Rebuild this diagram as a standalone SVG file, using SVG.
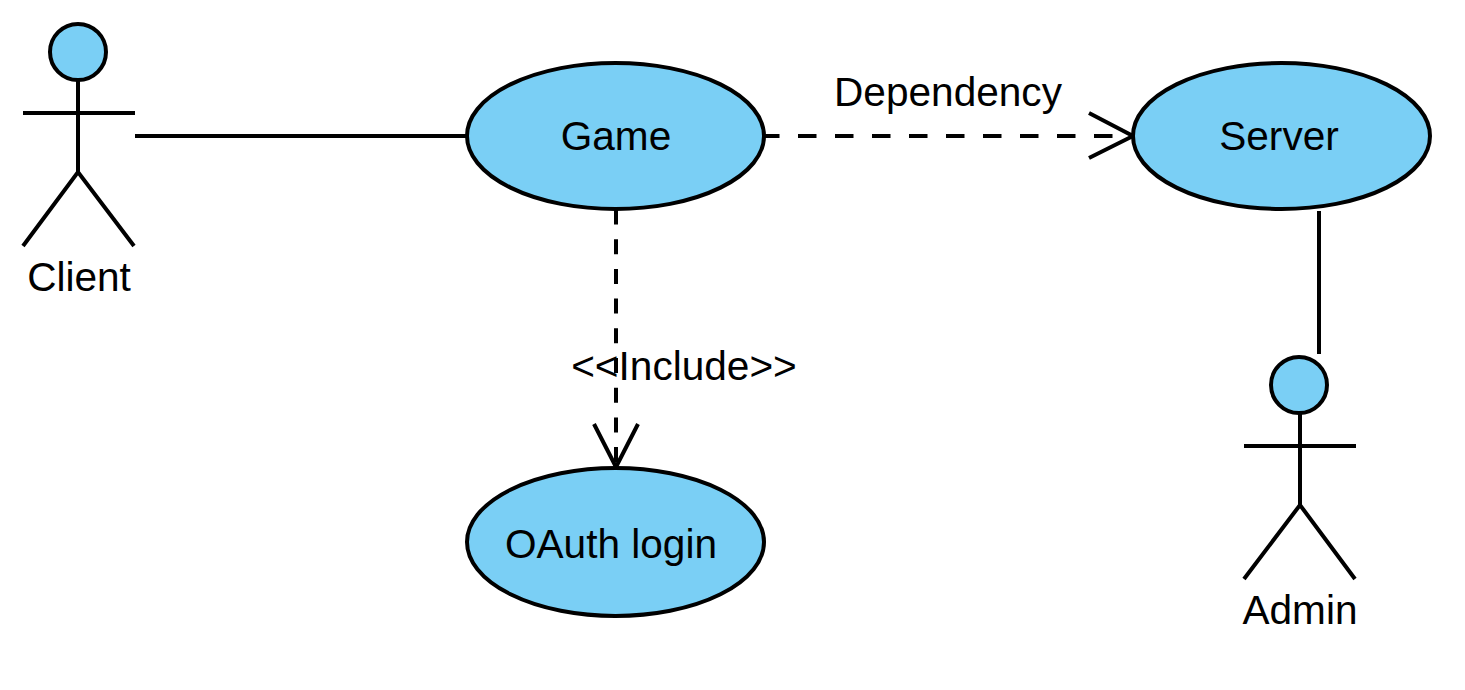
<svg xmlns="http://www.w3.org/2000/svg" width="1465" height="690" viewBox="0 0 1465 690">
<style>
.s{fill:none;stroke:#000;stroke-width:4}
.f{fill:#7acff5;stroke:#000;stroke-width:4}
text{font-family:"Liberation Sans",Arial,sans-serif;font-size:40.600px;fill:#000;text-anchor:middle}
</style>
<rect width="1465" height="690" fill="#fff"/>
<g id="connectors">
<path class="s" d="M135 136H467"/>
<path class="s" stroke-dasharray="18.500 18.500" stroke-dashoffset="3" d="M764 136H1133"/>
<path class="s" d="M1089 113L1133 136L1089 158"/>
<path class="s" stroke-dasharray="15 14.700" d="M616 209.500V467"/>
<path class="s" d="M594 424L616 467L638 424"/>
<path class="s" d="M1319 211V354"/>
</g>
<g id="client"><circle class="f" cx="78" cy="52" r="28"/><path class="s" d="M78 80V172M23 113H135M23 246L78 172L134 246"/><text x="79" y="291">Client</text></g>
<g id="game"><ellipse class="f" cx="615.500" cy="136" rx="148.500" ry="73"/><text x="616" y="150">Game</text></g>
<g id="server"><ellipse class="f" cx="1281.500" cy="136" rx="148.500" ry="73"/><text x="1279" y="150">Server</text></g>
<g id="oauth"><ellipse class="f" cx="615.500" cy="542" rx="148.500" ry="74"/><text x="611" y="558">OAuth login</text></g>
<g id="admin"><circle class="f" cx="1299" cy="385" r="28"/><path class="s" d="M1300 413V505M1244 446H1356M1244 579L1300 505L1355 579"/><text x="1300" y="624">Admin</text></g>
<g id="labels"><text x="948" y="106">Dependency</text><text x="684" y="380">&lt;&lt;Include&gt;&gt;</text></g>
</svg>
